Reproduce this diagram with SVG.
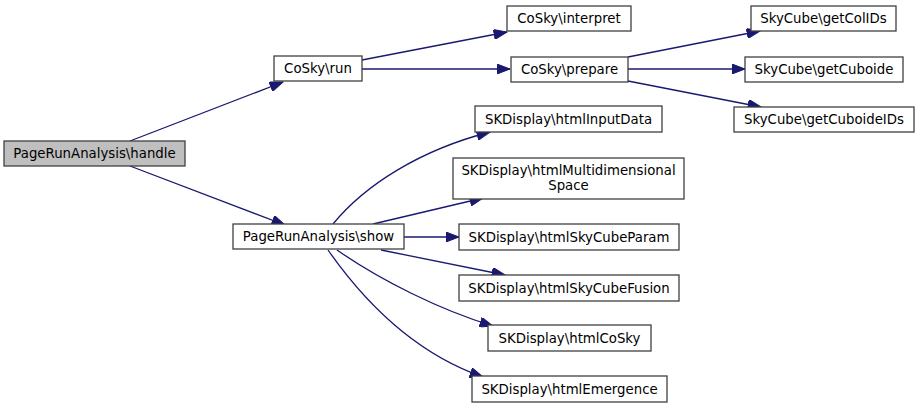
<svg xmlns="http://www.w3.org/2000/svg" width="919" height="408" viewBox="0 0 919 408">
<style>
.n rect{fill:#ffffff;stroke:#404040;stroke-width:1.3}
.n.h rect{fill:#bfbfbf}
.n text{font-family:"DejaVu Sans","Liberation Sans",sans-serif;font-size:13.3px;fill:#000;text-anchor:middle}
.e path{fill:none;stroke:#191970;stroke-width:1.3;marker-end:url(#ah)}
</style>
<defs>
<marker id="ah" markerUnits="userSpaceOnUse" markerWidth="14" markerHeight="10" viewBox="0 0 13 10" refX="13" refY="5" orient="auto">
<path d="M0,0 L13,5 L0,10 z" fill="#191970" stroke="#191970"/>
</marker>
</defs>
<rect width="919" height="408" fill="#ffffff"/>
<g id="connectors" class="e">
<path d="M130,141 L283,82"/>
<path d="M130,166 L285,225"/>
<path d="M362,60 L507,32"/>
<path d="M362,69 L510,69"/>
<path d="M628,57 L760,31"/>
<path d="M628,69 L745,69"/>
<path d="M628,81 L761,107"/>
<path d="M333,224 C365,185 420,150 490,132"/>
<path d="M373,224 L483,198"/>
<path d="M404,237 L459,237"/>
<path d="M381,250 L505,275"/>
<path d="M337,250 C380,280 440,310 493,326"/>
<path d="M328,250 C370,310 420,355 483,377"/>
</g>
<g id="handle" class="n h"><rect x="4" y="141" width="181" height="25"/><text x="94.5" y="158">PageRunAnalysis\handle</text></g>
<g id="run" class="n"><rect x="274" y="56" width="88" height="25"/><text x="318" y="73">CoSky\run</text></g>
<g id="interpret" class="n"><rect x="507" y="6" width="124" height="25"/><text x="569" y="23">CoSky\interpret</text></g>
<g id="prepare" class="n"><rect x="511" y="57" width="117" height="25"/><text x="569.5" y="74">CoSky\prepare</text></g>
<g id="getColIDs" class="n"><rect x="751" y="6" width="145" height="25"/><text x="823.5" y="23">SkyCube\getColIDs</text></g>
<g id="getCuboide" class="n"><rect x="745" y="57" width="158" height="25"/><text x="824" y="74">SkyCube\getCuboide</text></g>
<g id="getCuboideIDs" class="n"><rect x="734" y="107" width="180" height="25"/><text x="824" y="124">SkyCube\getCuboideIDs</text></g>
<g id="show" class="n"><rect x="233" y="224" width="171" height="25"/><text x="318.5" y="241">PageRunAnalysis\show</text></g>
<g id="htmlInputData" class="n"><rect x="475" y="106" width="187" height="26"/><text x="568.5" y="123.5">SKDisplay\htmlInputData</text></g>
<g id="htmlMultidimensionalSpace" class="n"><rect x="453" y="158" width="231" height="41"/><text x="568.5" y="175">SKDisplay\htmlMultidimensional</text><text x="568.5" y="190">Space</text></g>
<g id="htmlSkyCubeParam" class="n"><rect x="459" y="224" width="220" height="26"/><text x="569" y="241.5">SKDisplay\htmlSkyCubeParam</text></g>
<g id="htmlSkyCubeFusion" class="n"><rect x="459" y="275" width="220" height="26"/><text x="569" y="292.5">SKDisplay\htmlSkyCubeFusion</text></g>
<g id="htmlCoSky" class="n"><rect x="488" y="325" width="163" height="26"/><text x="569.5" y="342.5">SKDisplay\htmlCoSky</text></g>
<g id="htmlEmergence" class="n"><rect x="472" y="376" width="195" height="26"/><text x="569.5" y="393.5">SKDisplay\htmlEmergence</text></g>
</svg>
